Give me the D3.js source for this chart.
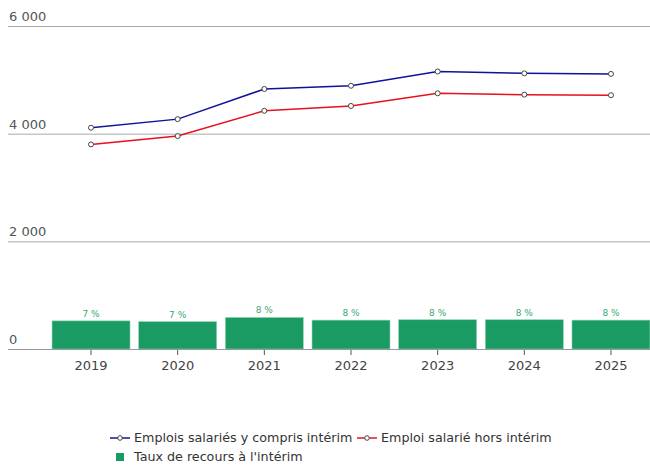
<!DOCTYPE html>
<html lang="fr">
<head>
    <meta charset="UTF-8">
    <title>Emplois salariés et intérim</title>
    <style>
        body { margin: 0; background: #fff; }
        text { font-family: "DejaVu Sans", Verdana, sans-serif; }
    </style>
</head>
<body>
    <div class="container"></div>
    <script src="https://cdn.jsdelivr.net/npm/d3@7/dist/d3.min.js"></script>
    <script>
        const years = ["2019", "2020", "2021", "2022", "2023", "2024", "2025"]
        const emploisAvecInterim = [4110, 4270, 4830, 4890, 5155, 5120, 5110]
        const emploisHorsInterim = [3800, 3955, 4425, 4515, 4750, 4725, 4715]
        const tauxInterim = [7.4, 7.2, 8.3, 7.6, 7.7, 7.7, 7.6]
        const yTicks = [0, 2000, 4000, 6000]

        const width = 650
        const height = 466

        const svg = d3.select('.container').append("svg")
            .attr("width", width)
            .attr("height", height)

        const x = d3.scaleBand()
            .domain(years)
            .range([47.7, 654.3])
            .paddingInner(0.1)
            .paddingOuter(0.05)

        const y = d3.scaleLinear()
            .domain([0, 6000])
            .range([349, 26])

        // hidden secondary scale for the bars
        const yPct = d3.scaleLinear()
            .domain([0, 85])
            .range([349, 26])

        // grid + y labels
        const grid = svg.append("g").attr("class", "grid")
        grid.selectAll("line")
            .data(yTicks)
            .join("line")
            .attr("x1", 8)
            .attr("x2", width)
            .attr("y1", d => y(d) + 0.5)
            .attr("y2", d => y(d) + 0.5)
            .attr("stroke", "#aaa")
            .attr("stroke-width", 1)

        const fmt = d3.formatLocale({ decimal: ",", thousands: " ", grouping: [3], currency: ["", " €"] }).format(",d")
        grid.selectAll("text")
            .data(yTicks)
            .join("text")
            .attr("x", 9)
            .attr("y", d => y(d) - 5)
            .attr("font-size", 13)
            .attr("fill", "#555")
            .text(d => fmt(d))

        // bars
        const bars = svg.append("g").attr("class", "bars")
        bars.selectAll("rect")
            .data(years)
            .join("rect")
            .attr("x", d => x(d))
            .attr("width", x.bandwidth())
            .attr("y", (d, i) => yPct(tauxInterim[i]))
            .attr("height", (d, i) => yPct(0) - yPct(tauxInterim[i]))
            .attr("fill", "#1a9b63")
            .attr("stroke", "#8fd4b3")
            .attr("stroke-width", 0.6)

        bars.selectAll("text")
            .data(years)
            .join("text")
            .attr("x", d => x(d) + x.bandwidth() / 2)
            .attr("y", (d, i) => yPct(tauxInterim[i]) - 4)
            .attr("text-anchor", "middle")
            .attr("font-size", 9)
            .attr("fill", "#3aa874")
            .text((d, i) => d3.format(".0f")(tauxInterim[i]) + " %")

        // baseline
        svg.append("line")
            .attr("x1", 8).attr("x2", width)
            .attr("y1", y(0) + 0.5).attr("y2", y(0) + 0.5)
            .attr("stroke", "#999")

        // x axis
        const bottomAxis = d3.axisBottom(x).tickSize(5).tickSizeOuter(0)
        const axisG = svg.append("g")
            .attr("transform", `translate(0,${y(0) + 1})`)
            .call(bottomAxis)
        axisG.select(".domain").remove()
        axisG.selectAll(".tick line").attr("stroke", "#555")
        axisG.selectAll(".tick text")
            .attr("font-family", "DejaVu Sans, Verdana, sans-serif")
            .attr("font-size", 13)
            .attr("fill", "#444")
            .attr("dy", "0.95em")

        // lines
        const series = [
            { name: "Emplois salariés y compris intérim", values: emploisAvecInterim, color: "#11119b" },
            { name: "Emploi salarié hors intérim", values: emploisHorsInterim, color: "#e8101e" }
        ]
        const cx = d => x(d) + x.bandwidth() / 2
        const line = d3.line()
            .x(d => cx(d.year))
            .y(d => y(d.v))

        series.forEach(s => {
            const pts = years.map((yr, i) => ({ year: yr, v: s.values[i] }))
            svg.append("path")
                .datum(pts)
                .attr("fill", "none")
                .attr("stroke", s.color)
                .attr("stroke-width", 1.5)
                .attr("d", line)
            svg.append("g").selectAll("circle")
                .data(pts)
                .join("circle")
                .attr("cx", d => cx(d.year))
                .attr("cy", d => y(d.v))
                .attr("r", 2.5)
                .attr("fill", "#fff")
                .attr("stroke", "#444")
                .attr("stroke-width", 1)
        })

        // legend
        const legend = svg.append("g").attr("class", "legend")
        const legendItems = [
            { x: 110, y: 438, s: series[0] },
            { x: 357, y: 438, s: series[1] }
        ]
        legendItems.forEach(it => {
            legend.append("line")
                .attr("x1", it.x).attr("x2", it.x + 20)
                .attr("y1", it.y).attr("y2", it.y)
                .attr("stroke", it.s.color).attr("stroke-width", 1.5)
            legend.append("circle")
                .attr("cx", it.x + 10).attr("cy", it.y).attr("r", 2.3)
                .attr("fill", "#fff").attr("stroke", "#444")
            legend.append("text")
                .attr("x", it.x + 24).attr("y", it.y)
                .attr("dy", "0.35em")
                .attr("font-size", 12.7)
                .attr("fill", "#333")
                .text(it.s.name)
        })
        legend.append("rect")
            .attr("x", 116).attr("y", 453)
            .attr("width", 8).attr("height", 8)
            .attr("fill", "#1a9b63")
        legend.append("text")
            .attr("x", 134).attr("y", 457)
            .attr("dy", "0.35em")
            .attr("font-size", 12.7)
            .attr("fill", "#333")
            .text("Taux de recours à l'intérim")
    </script>
</body>
</html>
